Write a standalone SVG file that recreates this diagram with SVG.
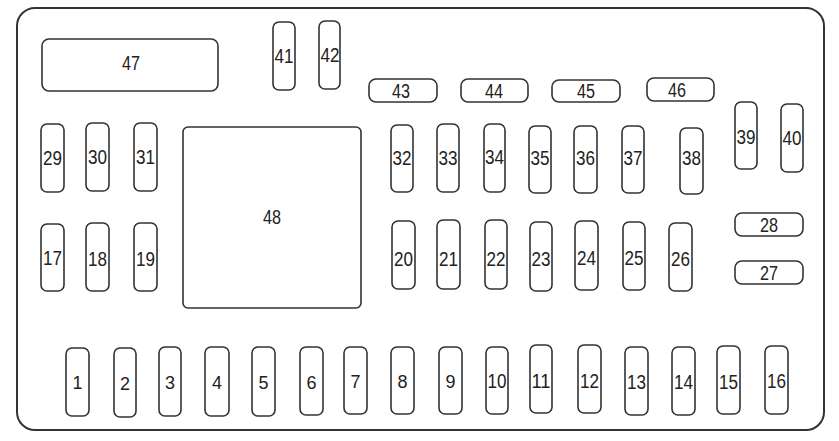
<svg xmlns="http://www.w3.org/2000/svg" width="839" height="441" viewBox="0 0 839 441">
<style>
.frame{fill:#fff;stroke:#333;stroke-width:2}
.f{fill:#fff;stroke:#333;stroke-width:1.6}
text{font-family:"Liberation Sans",Arial,sans-serif;font-size:18px;fill:#222;text-anchor:middle}
text.v{font-size:20px}
</style>
<rect width="839" height="441" fill="#fff"/>
<rect class="frame" x="17" y="8" width="807" height="422" rx="18"/>
<g id="connectors"/>
<g id="n47"><rect class="f" x="42" y="39" width="176" height="52" rx="7"/><text class="v" x="131" y="70" textLength="18" lengthAdjust="spacingAndGlyphs">47</text></g>
<g id="n41"><rect class="f" x="273" y="22" width="22" height="68" rx="6"/><text class="v" x="284" y="63" textLength="19" lengthAdjust="spacingAndGlyphs">41</text></g>
<g id="n42"><rect class="f" x="319" y="21" width="21" height="68" rx="6"/><text class="v" x="330" y="62" textLength="19" lengthAdjust="spacingAndGlyphs">42</text></g>
<g id="n43"><rect class="f" x="369" y="79" width="68" height="23" rx="7"/><text class="v" x="401" y="98" textLength="18" lengthAdjust="spacingAndGlyphs">43</text></g>
<g id="n44"><rect class="f" x="461" y="79" width="67" height="23" rx="7"/><text class="v" x="494" y="98" textLength="18" lengthAdjust="spacingAndGlyphs">44</text></g>
<g id="n45"><rect class="f" x="552" y="80" width="68" height="22" rx="7"/><text class="v" x="586" y="98" textLength="18" lengthAdjust="spacingAndGlyphs">45</text></g>
<g id="n46"><rect class="f" x="647" y="78" width="67" height="23" rx="7"/><text class="v" x="677" y="97" textLength="18" lengthAdjust="spacingAndGlyphs">46</text></g>
<g id="n39"><rect class="f" x="735" y="102" width="22" height="67" rx="6"/><text class="v" x="746" y="144" textLength="19" lengthAdjust="spacingAndGlyphs">39</text></g>
<g id="n40"><rect class="f" x="781" y="104" width="22" height="68" rx="6"/><text class="v" x="792" y="145" textLength="19" lengthAdjust="spacingAndGlyphs">40</text></g>
<g id="n29"><rect class="f" x="41" y="124" width="23" height="68" rx="6"/><text class="v" x="52.5" y="165" textLength="19" lengthAdjust="spacingAndGlyphs">29</text></g>
<g id="n30"><rect class="f" x="86" y="123" width="23" height="68" rx="6"/><text class="v" x="97.5" y="164" textLength="19" lengthAdjust="spacingAndGlyphs">30</text></g>
<g id="n31"><rect class="f" x="134" y="123" width="23" height="68" rx="6"/><text class="v" x="145.5" y="164" textLength="19" lengthAdjust="spacingAndGlyphs">31</text></g>
<g id="n48"><rect class="f" x="183" y="127" width="178" height="181" rx="5"/><text class="v" x="272" y="224" textLength="18" lengthAdjust="spacingAndGlyphs">48</text></g>
<g id="n32"><rect class="f" x="391" y="125" width="22" height="67" rx="6"/><text class="v" x="402" y="165" textLength="19" lengthAdjust="spacingAndGlyphs">32</text></g>
<g id="n33"><rect class="f" x="437" y="124" width="22" height="68" rx="6"/><text class="v" x="448" y="165" textLength="19" lengthAdjust="spacingAndGlyphs">33</text></g>
<g id="n34"><rect class="f" x="484" y="124" width="21" height="68" rx="6"/><text class="v" x="494.5" y="164" textLength="19" lengthAdjust="spacingAndGlyphs">34</text></g>
<g id="n35"><rect class="f" x="529" y="126" width="22" height="67" rx="6"/><text class="v" x="540" y="165" textLength="19" lengthAdjust="spacingAndGlyphs">35</text></g>
<g id="n36"><rect class="f" x="574" y="126" width="23" height="67" rx="6"/><text class="v" x="585.5" y="165" textLength="19" lengthAdjust="spacingAndGlyphs">36</text></g>
<g id="n37"><rect class="f" x="622" y="126" width="22" height="67" rx="6"/><text class="v" x="633" y="165" textLength="19" lengthAdjust="spacingAndGlyphs">37</text></g>
<g id="n38"><rect class="f" x="680" y="128" width="23" height="66" rx="6"/><text class="v" x="691.5" y="165" textLength="19" lengthAdjust="spacingAndGlyphs">38</text></g>
<g id="n17"><rect class="f" x="41" y="224" width="23" height="67" rx="6"/><text class="v" x="52.5" y="265" textLength="19" lengthAdjust="spacingAndGlyphs">17</text></g>
<g id="n18"><rect class="f" x="86" y="223" width="23" height="68" rx="6"/><text class="v" x="97.5" y="266" textLength="19" lengthAdjust="spacingAndGlyphs">18</text></g>
<g id="n19"><rect class="f" x="134" y="223" width="23" height="68" rx="6"/><text class="v" x="145.5" y="266" textLength="19" lengthAdjust="spacingAndGlyphs">19</text></g>
<g id="n20"><rect class="f" x="392" y="221" width="23" height="68" rx="6"/><text class="v" x="403.5" y="266" textLength="19" lengthAdjust="spacingAndGlyphs">20</text></g>
<g id="n21"><rect class="f" x="437" y="220" width="23" height="69" rx="6"/><text class="v" x="448.5" y="266" textLength="19" lengthAdjust="spacingAndGlyphs">21</text></g>
<g id="n22"><rect class="f" x="485" y="220" width="22" height="69" rx="6"/><text class="v" x="496" y="266" textLength="19" lengthAdjust="spacingAndGlyphs">22</text></g>
<g id="n23"><rect class="f" x="530" y="222" width="22" height="69" rx="6"/><text class="v" x="541" y="266" textLength="19" lengthAdjust="spacingAndGlyphs">23</text></g>
<g id="n24"><rect class="f" x="575" y="221" width="23" height="69" rx="6"/><text class="v" x="586.5" y="265" textLength="19" lengthAdjust="spacingAndGlyphs">24</text></g>
<g id="n25"><rect class="f" x="623" y="222" width="22" height="68" rx="6"/><text class="v" x="634" y="265" textLength="19" lengthAdjust="spacingAndGlyphs">25</text></g>
<g id="n26"><rect class="f" x="669" y="223" width="23" height="68" rx="6"/><text class="v" x="680.5" y="266" textLength="19" lengthAdjust="spacingAndGlyphs">26</text></g>
<g id="n28"><rect class="f" x="735" y="213" width="68" height="23" rx="7"/><text class="v" x="769" y="232" textLength="18" lengthAdjust="spacingAndGlyphs">28</text></g>
<g id="n27"><rect class="f" x="735" y="261" width="68" height="23" rx="7"/><text class="v" x="769" y="280" textLength="18" lengthAdjust="spacingAndGlyphs">27</text></g>
<g id="n1"><rect class="f" x="66" y="348" width="23" height="68" rx="6"/><text x="77.5" y="389">1</text></g>
<g id="n2"><rect class="f" x="114" y="348" width="22" height="69" rx="6"/><text x="125" y="390">2</text></g>
<g id="n3"><rect class="f" x="159" y="347" width="22" height="69" rx="6"/><text x="170" y="389">3</text></g>
<g id="n4"><rect class="f" x="205" y="347" width="24" height="69" rx="6"/><text x="217" y="389">4</text></g>
<g id="n5"><rect class="f" x="252" y="347" width="23" height="69" rx="6"/><text x="263.5" y="389">5</text></g>
<g id="n6"><rect class="f" x="300" y="347" width="23" height="68" rx="6"/><text x="311.5" y="389">6</text></g>
<g id="n7"><rect class="f" x="344" y="347" width="23" height="67" rx="6"/><text x="355.5" y="388">7</text></g>
<g id="n8"><rect class="f" x="391" y="347" width="23" height="67" rx="6"/><text x="402.5" y="388">8</text></g>
<g id="n9"><rect class="f" x="439" y="347" width="23" height="67" rx="6"/><text x="450.5" y="388">9</text></g>
<g id="n10"><rect class="f" x="486" y="347" width="22" height="67" rx="6"/><text class="v" x="497" y="388" textLength="19" lengthAdjust="spacingAndGlyphs">10</text></g>
<g id="n11"><rect class="f" x="530" y="345" width="22" height="68" rx="6"/><text class="v" x="541" y="388" textLength="19" lengthAdjust="spacingAndGlyphs">11</text></g>
<g id="n12"><rect class="f" x="578" y="345" width="23" height="68" rx="6"/><text class="v" x="589.5" y="388" textLength="19" lengthAdjust="spacingAndGlyphs">12</text></g>
<g id="n13"><rect class="f" x="625" y="347" width="23" height="68" rx="6"/><text class="v" x="636.5" y="389" textLength="19" lengthAdjust="spacingAndGlyphs">13</text></g>
<g id="n14"><rect class="f" x="672" y="347" width="23" height="68" rx="6"/><text class="v" x="683.5" y="389" textLength="19" lengthAdjust="spacingAndGlyphs">14</text></g>
<g id="n15"><rect class="f" x="717" y="346" width="23" height="68" rx="6"/><text class="v" x="728.5" y="389" textLength="19" lengthAdjust="spacingAndGlyphs">15</text></g>
<g id="n16"><rect class="f" x="765" y="346" width="23" height="68" rx="6"/><text class="v" x="776.5" y="388" textLength="19" lengthAdjust="spacingAndGlyphs">16</text></g>
</svg>
